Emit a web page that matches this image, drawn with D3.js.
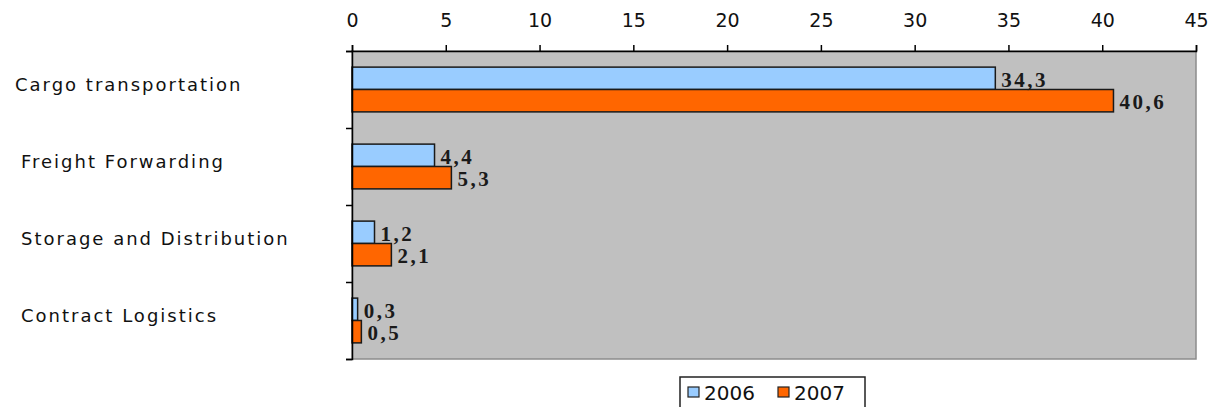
<!DOCTYPE html>
<html>
<head>
<script src="https://cdnjs.cloudflare.com/ajax/libs/d3/7.8.5/d3.min.js"></script>
<style>
body { margin: 0; background: #fff; }
.tick text { font-family: "DejaVu Sans", sans-serif; }
</style>
</head>
<body>
<div id="chart"></div>
<script>
var categories = ["Cargo transportation", "Freight Forwarding", "Storage and Distribution", "Contract Logistics"];
var series = ["2006", "2007"];
var values2006 = [34.3, 4.4, 1.2, 0.3];
var values2007 = [40.6, 5.3, 2.1, 0.5];
var xTicks = [0, 5, 10, 15, 20, 25, 30, 35, 40, 45];
var colors = ["#99ccff", "#ff6600"];

var width = 1213, height = 407;
var plotL = 352, plotR = 1196, plotT = 51, plotB = 359;

var svg = d3.select("#chart").append("svg")
  .attr("width", width).attr("height", height);

var x = d3.scaleLinear().domain([0, 45]).range([plotL, plotR]);
var y = d3.scaleBand().domain(categories).range([plotT, plotB]);
var sub = d3.scaleBand().domain(series).range([0, y.bandwidth()]).paddingOuter(0.72);

// plot area
svg.append("rect")
  .attr("x", plotL).attr("y", plotT)
  .attr("width", plotR - plotL).attr("height", plotB - plotT)
  .attr("fill", "#c0c0c0").attr("stroke", "#8c8c8c").attr("stroke-width", 1.5);

// bars
var rows = categories.map(function(c, i) {
  return {cat: c, vals: [values2006[i], values2007[i]]};
});
var g = svg.selectAll("g.row").data(rows).enter().append("g")
  .attr("transform", function(d) { return "translate(0," + y(d.cat) + ")"; });

g.selectAll("rect").data(function(d) { return d.vals; }).enter().append("rect")
  .attr("x", x(0))
  .attr("y", function(d, i) { return sub(series[i]); })
  .attr("width", function(d) { return x(d) - x(0); })
  .attr("height", sub.bandwidth())
  .attr("fill", function(d, i) { return colors[i]; })
  .attr("stroke", "#1a1a1a").attr("stroke-width", 1.5);

g.selectAll("text.val").data(function(d) { return d.vals; }).enter().append("text")
  .attr("class", "val")
  .attr("x", function(d) { return x(d) + 6; })
  .attr("y", function(d, i) { return sub(series[i]) + sub.bandwidth() / 2 + 1; })
  .attr("dy", "0.35em")
  .attr("font-family", "Liberation Serif, serif")
  .attr("font-weight", "bold")
  .attr("font-size", 21)
  .attr("letter-spacing", 2.5)
  .attr("fill", "#1a1a1a")
  .text(function(d) { return String(d).replace(".", ","); });

// top axis
var xAxis = svg.append("g")
  .attr("transform", "translate(0," + plotT + ")")
  .call(d3.axisTop(x).tickValues(xTicks).tickSize(6).tickPadding(18));
xAxis.select(".domain").attr("stroke", "#000").attr("stroke-width", 1.5);
xAxis.selectAll(".tick line").attr("stroke", "#000").attr("stroke-width", 1.5);
xAxis.selectAll(".tick text").attr("font-size", 19).attr("fill", "#111");

// left axis
var yAxis = svg.append("g")
  .attr("transform", "translate(" + plotL + ",0)")
  .call(d3.axisLeft(d3.scaleLinear().domain([0, 4]).range([plotT, plotB]))
    .ticks(4).tickSize(6).tickFormat(""));
yAxis.select(".domain").attr("stroke", "#000").attr("stroke-width", 1.5);
yAxis.selectAll(".tick line").attr("stroke", "#000").attr("stroke-width", 1.5);

// category labels
svg.selectAll("text.cat").data(categories).enter().append("text")
  .attr("class", "cat")
  .attr("x", function(d, i) { return i === 0 ? 15 : 21; })
  .attr("y", function(d) { return y(d) + y.bandwidth() / 2 - 5; })
  .attr("dy", "0.35em")
  .attr("font-family", "DejaVu Sans, sans-serif")
  .attr("font-size", 18)
  .attr("letter-spacing", 2)
  .attr("fill", "#111")
  .text(function(d) { return d; });

// legend
var lg = svg.append("g").attr("transform", "translate(680,377)");
lg.append("rect").attr("x", 0).attr("y", 0).attr("width", 185).attr("height", 40)
  .attr("fill", "#fff").attr("stroke", "#222").attr("stroke-width", 1.5);
var items = lg.selectAll("g.item").data(series).enter().append("g")
  .attr("transform", function(d, i) { return "translate(" + (8 + i * 90) + ",0)"; });
items.append("rect").attr("x", 0).attr("y", 10).attr("width", 11).attr("height", 10)
  .attr("fill", function(d, i) { return colors[i]; })
  .attr("stroke", "#222").attr("stroke-width", 1.2);
items.append("text").attr("x", 16).attr("y", 16).attr("dy", "0.35em")
  .attr("font-family", "DejaVu Sans, sans-serif").attr("font-size", 20)
  .attr("fill", "#111")
  .text(function(d) { return d; });
</script>
</body>
</html>
